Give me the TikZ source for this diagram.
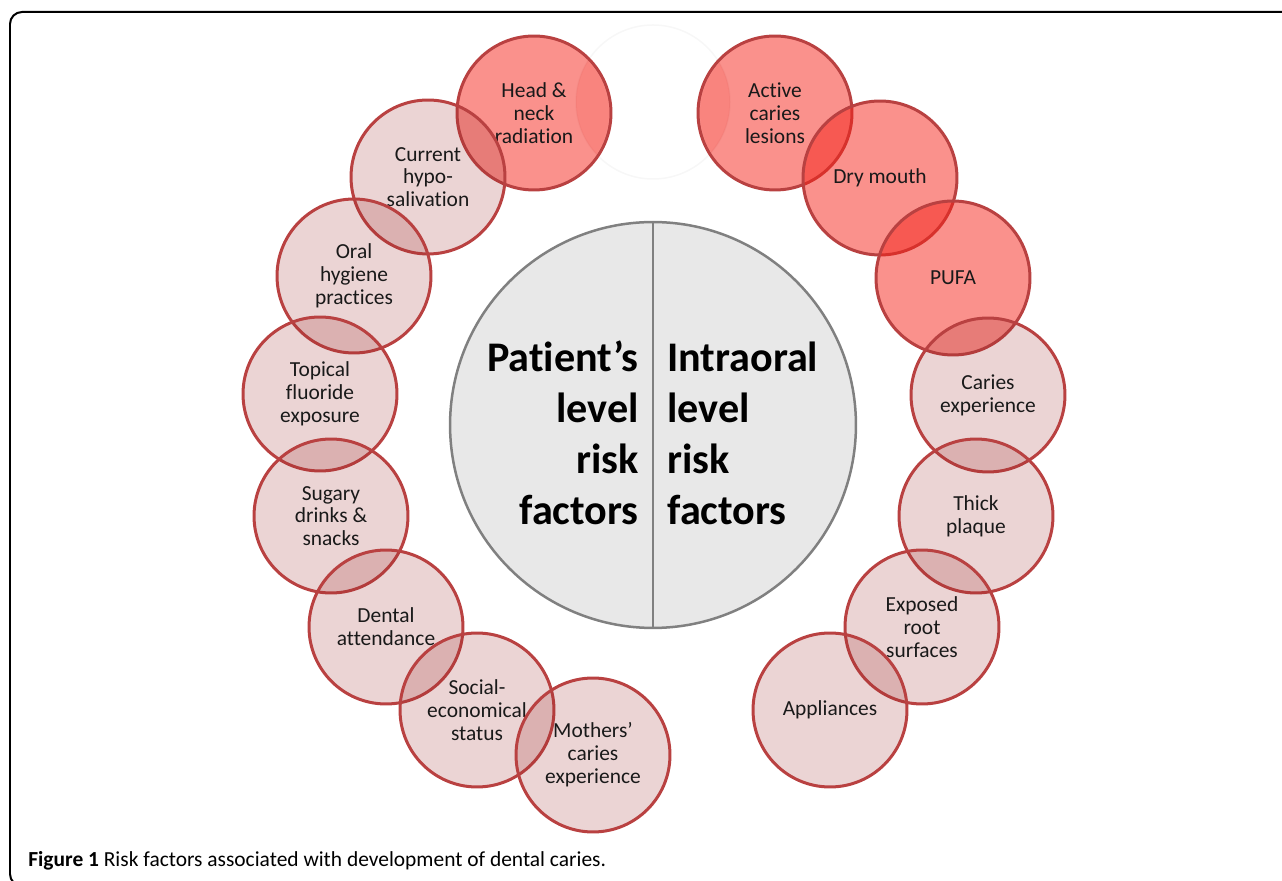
\documentclass[tikz,border=0pt]{standalone}
\usepackage{fontspec}
\setmainfont{Carlito}[RawFeature={-liga;-clig;-dlig}]
\definecolor{ringred}{RGB}{185,65,65}
\definecolor{palefill}{RGB}{155,40,40}
\definecolor{hotfill}{RGB}{245,35,25}
\definecolor{hubgray}{RGB}{232,232,232}
\definecolor{hubline}{RGB}{128,128,128}
\definecolor{inkgray}{RGB}{25,25,25}
\tikzset{
	factor/.style={circle, draw=ringred, line width=0.06cm, minimum size=3.08cm, inner sep=0pt,
		align=center, text=inkgray, text opacity=1, font=\fontsize{12.2}{13}\selectfont},
	mild/.style={factor, fill=palefill, fill opacity=0.2},
	severe/.style={factor, fill=hotfill, fill opacity=0.5},
	hubtext/.style={inner sep=0pt, font=\bfseries\fontsize{24}{29}\selectfont},
}

\begin{document}
\begin{tikzpicture}[x=0.02cm, y=-0.02cm]
		%%%%% FRAME %%%%%
		\useasboundingbox (0, 0) rectangle (1282, 881);
		\clip (0, 0) rectangle (1282, 881);
		\draw[line width=0.04cm, rounded corners=0.24cm] (10, 12) rectangle (1330, 886);
		
		%%%%% HUB %%%%%
		\node[circle, draw=hubline, fill=hubgray, line width=0.05cm, minimum size=8.12cm] (hub) at (653, 425) {};
		\draw[hubline, line width=0.05cm] (hub.north) -- (hub.south);
		\node[hubtext, anchor=east, align=right] (patient) at (639, 433) {Patient’s\\level\\risk\\factors};
		\node[hubtext, anchor=west, align=left] (intraoral) at (667, 433) {Intraoral\\level\\risk\\factors};
		
		%%%%% FAINT TOP CIRCLE %%%%%
		\draw[black!3, line width=0.03cm] (653, 102) circle (77);
		
		%%%%% PATIENT'S LEVEL %%%%%
		\node[severe] (radiation) at (534, 113) {Head \&\\neck\\radiation};
		\node[mild] (saliva) at (428, 177) {Current\\hypo-\\salivation};
		\node[mild] (hygiene) at (354, 276) {Oral\\hygiene\\practices};
		\node[mild] (fluoride) at (320, 394) {Topical\\fluoride\\exposure};
		\node[mild] (sugar) at (331, 516) {Sugary\\drinks \&\\snacks};
		\node[mild] (attendance) at (386, 627) {Dental\\attendance};
		\node[mild] (status) at (477, 710) {Social-\\economical\\status};
		\node[mild] (mothers) at (593, 755) {Mothers’\\caries\\experience};
		
		%%%%% INTRAORAL LEVEL %%%%%
		\node[severe] (lesions) at (775, 113) {Active\\caries\\lesions};
		\node[severe] (drymouth) at (880, 178) {Dry mouth};
		\node[severe] (pufa) at (953, 278) {PUFA};
		\node[mild] (experience) at (988, 395) {Caries\\experience};
		\node[mild] (plaque) at (976, 516) {Thick\\plaque};
		\node[mild] (roots) at (922, 627) {Exposed\\root\\surfaces};
		\node[mild] (appliances) at (830, 710) {Appliances};
		
		% darker crescents where the faint circle meets the top ones
		\begin{scope}
			\clip (653, 102) circle (77);
			\fill[hotfill, opacity=0.12] (radiation.center) circle (75);
			\fill[hotfill, opacity=0.12] (lesions.center) circle (75);
		\end{scope}
		
		%%%%% CAPTION %%%%%
		\node[anchor=base west, inner sep=0pt, font=\fontsize{12.2}{13}\selectfont] (caption) at (28, 866)
			{\textbf{Figure 1} Risk factors associated with development of dental caries.};
	\end{tikzpicture}
\end{document}
